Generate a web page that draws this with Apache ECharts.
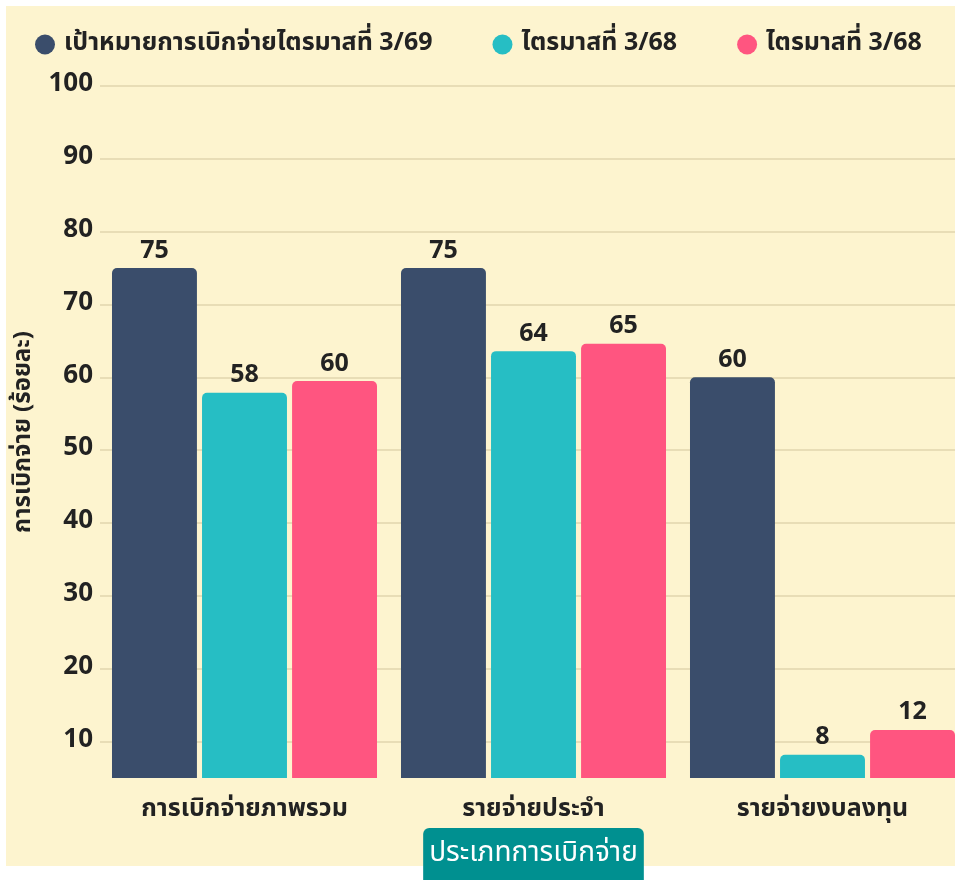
<!DOCTYPE html>
<html>
<head>
<meta charset="utf-8">
<script src="https://cdn.jsdelivr.net/npm/echarts@6/dist/echarts.min.js"></script>
<style>
html,body{margin:0;padding:0;background:#ffffff;}
#bg{position:absolute;left:6px;top:6px;width:949px;height:860px;background:#fdf4cf;}
#chart{position:absolute;left:0;top:0;width:955px;height:880px;}
</style>
</head>
<body>
<div id="bg"></div>
<div id="chart"></div>
<script>
const categories = ['การเบิกจ่ายภาพรวม', 'รายจ่ายประจำ', 'รายจ่ายงบลงทุน'];
const seriesNames = ['เป้าหมายการเบิกจ่ายไตรมาสที่ 3/69', 'ไตรมาสที่ 3/68', 'ไตรมาสที่ 3/68 '];
const targetValues = [75, 75, 60];
const q3a = [57.9, 63.6, 8.2];
const q3b = [59.5, 64.6, 11.6];
const yTicks = [10, 20, 30, 40, 50, 60, 70, 80, 90, 100];
const colors = ['#3a4d6b', '#26bec4', '#ff5580'];

const FONT = '"Noto Sans Thai", "Noto Sans Thai Looped", "Noto Sans", "Open Sans", sans-serif';
const chart = echarts.init(document.getElementById('chart'), null, {renderer: 'canvas'});

const mk = (name, data, color) => ({
  name: name,
  type: 'bar',
  data: data,
  barGap: '6%',
  barCategoryGap: '8.3%',
  itemStyle: {color: color, borderRadius: [5, 5, 0, 0]},
  label: {
    show: true, position: 'top', distance: 3,
    fontFamily: FONT, fontWeight: 'bold', fontSize: 25, color: '#222222',
    formatter: p => Math.round(p.value)
  }
});

chart.setOption({
  backgroundColor: 'transparent',
  textStyle: {fontFamily: FONT},
  color: colors,
  legend: {
    top: 27, left: 30, itemGap: 60,
    icon: 'circle', itemWidth: 20, itemHeight: 20,
    textStyle: {fontFamily: FONT, fontWeight: 'bold', fontSize: 25, color: '#222222', padding: [0, 0, 0, 4]},
    data: seriesNames
  },
  grid: {left: 100, right: -12, top: 86, bottom: 102, containLabel: false, outerBoundsMode: 'none'},
  xAxis: {
    type: 'category',
    data: categories,
    axisLine: {show: false},
    axisTick: {show: false},
    axisLabel: {fontFamily: FONT, fontWeight: 'bold', fontSize: 25, color: '#222222', margin: 20},
    name: 'ประเภทการเบิกจ่าย',
    nameLocation: 'middle',
    nameGap: 50,
    nameTextStyle: {
      fontFamily: FONT, fontSize: 28, color: '#ffffff',
      backgroundColor: '#009090', borderRadius: 6,
      padding: [13, 6, 17, 6]
    }
  },
  yAxis: {
    type: 'value',
    min: 5, max: 100,
    axisLine: {show: false},
    axisTick: {show: false, customValues: yTicks},
    axisLabel: {customValues: yTicks, fontFamily: FONT, fontWeight: 'bold', fontSize: 26, color: '#222222', margin: 7},
    splitLine: {show: true, lineStyle: {color: '#e0d6ae', width: 1.5}},
    name: 'การเบิกจ่าย (ร้อยละ)',
    nameLocation: 'middle',
    nameGap: 48,
    nameTextStyle: {fontFamily: FONT, fontWeight: 'bold', fontSize: 24, color: '#222222'}
  },
  series: [
    mk(seriesNames[0], targetValues, colors[0]),
    mk(seriesNames[1], q3a, colors[1]),
    mk(seriesNames[2], q3b, colors[2])
  ]
});
</script>
</body>
</html>
